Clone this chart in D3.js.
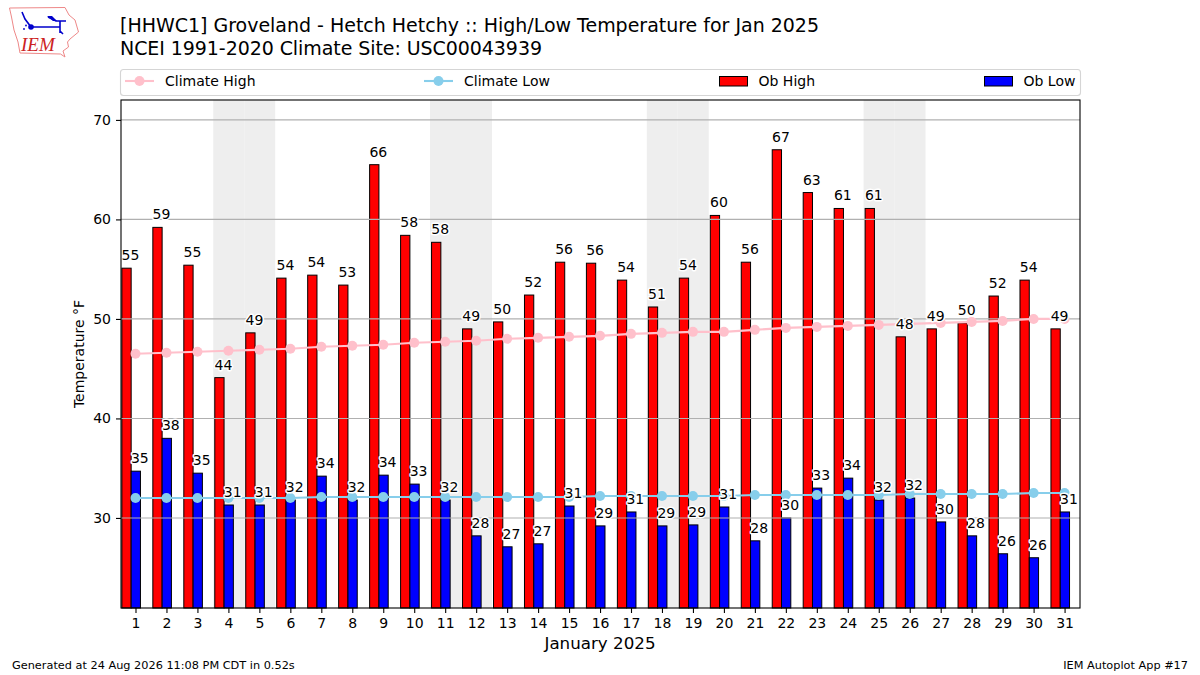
<!DOCTYPE html>
<html>
<head>
<meta charset="utf-8">
<script src="https://cdn.jsdelivr.net/npm/d3@7"></script>
<style>
  body { margin: 0; background: #fff; }
  text { font-family: "DejaVu Sans", sans-serif; fill: #000; }
  .tick text { font-size: 14px; }
  .halo { paint-order: stroke; stroke: #fff; stroke-width: 3px; stroke-linejoin: round; font-size: 14px; }
</style>
</head>
<body>
<svg id="chart" width="1200" height="675"></svg>
<script>
const days = d3.range(1, 32);
const weekendDays = [4, 5, 11, 12, 18, 19, 25, 26];
const yTicks = [30, 40, 50, 60, 70];

const obHigh = [55.1, 59.2, 55.4, 44.1, 48.6, 54.1, 54.4, 53.4, 65.5, 58.4, 57.7, 49.0, 49.7, 52.4, 55.7, 55.6,
  53.9, 51.2, 54.1, 60.4, 55.7, 67.0, 62.7, 61.1, 61.1, 48.2, 49.0, 49.6, 52.3, 53.9, 49.0];
const obLow = [34.7, 38.0, 34.5, 31.3, 31.3, 31.8, 34.2, 31.8, 34.3, 33.4, 31.8, 28.2, 27.1, 27.4, 31.2, 29.2,
  30.6, 29.2, 29.3, 31.1, 27.7, 30.0, 33.0, 34.0, 31.8, 32.0, 29.6, 28.2, 26.4, 26.0, 30.6];
const climateHigh = [46.5, 46.6, 46.7, 46.8, 46.9, 47.0, 47.2, 47.3, 47.4, 47.6, 47.7, 47.8, 48.0, 48.1, 48.2, 48.3,
  48.5, 48.6, 48.7, 48.7, 48.9, 49.1, 49.2, 49.3, 49.4, 49.5, 49.6, 49.7, 49.8, 50.0, 50.0];
const climateLow = [32.0, 32.0, 32.0, 32.0, 32.0, 32.0, 32.1, 32.1, 32.1, 32.1, 32.1, 32.1, 32.1, 32.1, 32.1, 32.2,
  32.2, 32.2, 32.2, 32.2, 32.3, 32.3, 32.3, 32.3, 32.3, 32.4, 32.4, 32.4, 32.4, 32.5, 32.5];

const titleLines = ['[HHWC1] Groveland - Hetch Hetchy :: High/Low Temperature for Jan 2025',
  'NCEI 1991-2020 Climate Site: USC00043939'];

const plot = { left: 121, right: 1080, top: 100, bottom: 608 };
const barW = 0.3;

const svg = d3.select('#chart');
const x = d3.scaleLinear().domain([0.532, 31.498]).range([plot.left, plot.right]);
const y = d3.scaleLinear().domain([20.95, 72.0]).range([plot.bottom, plot.top]);

// weekend shading goes under everything
svg.append('g').selectAll('rect').data(weekendDays).join('rect')
  .attr('x', d => x(d - 0.49)).attr('width', x(1) - x(0))
  .attr('y', plot.top).attr('height', plot.bottom - plot.top)
  .attr('fill', '#eeeeee');

function drawBars(values, start, color) {
  svg.append('g').selectAll('rect').data(values).join('rect')
    .attr('x', (d, i) => x(days[i] + start))
    .attr('width', x(barW) - x(0))
    .attr('y', d => y(d))
    .attr('height', d => plot.bottom - y(d))
    .attr('fill', color).attr('stroke', '#000').attr('stroke-width', 1);
}
drawBars(obHigh, -0.44, '#ff0000');
drawBars(obLow, -0.14, '#0000ff');

// gridlines sit over the bars, same as the matplotlib default
svg.append('g').selectAll('line').data(yTicks).join('line')
  .attr('x1', plot.left).attr('x2', plot.right)
  .attr('y1', d => y(d)).attr('y2', d => y(d))
  .attr('stroke', '#b0b0b0').attr('stroke-width', 1.1);

function drawClimate(values, color) {
  const line = d3.line().x((d, i) => x(days[i])).y(d => y(d));
  svg.append('path').attr('d', line(values))
    .attr('fill', 'none').attr('stroke', color).attr('stroke-width', 2.1);
  svg.append('g').selectAll('circle').data(values).join('circle')
    .attr('cx', (d, i) => x(days[i])).attr('cy', d => y(d)).attr('r', 5)
    .attr('fill', color);
}
drawClimate(climateHigh, '#ffc0cb');
drawClimate(climateLow, '#87ceeb');

function drawLabels(values, start) {
  svg.append('g').selectAll('text').data(values).join('text')
    .attr('class', 'halo')
    .attr('x', (d, i) => x(days[i] + start))
    .attr('y', d => y(d) - 8)
    .attr('text-anchor', 'middle')
    .text(d => Math.round(d));
}
drawLabels(obHigh, -0.16);
drawLabels(obLow, 0.14);

// axes
const xAxis = svg.append('g').attr('transform', `translate(0,${plot.bottom})`)
  .call(d3.axisBottom(x).tickValues(days).tickFormat(d3.format('d')).tickSize(5).tickPadding(5));
const yAxis = svg.append('g').attr('transform', `translate(${plot.left},0)`)
  .call(d3.axisLeft(y).tickValues(yTicks).tickFormat(d3.format('d')).tickSize(5).tickPadding(5));
xAxis.select('.domain').remove();
yAxis.select('.domain').remove();
svg.selectAll('.tick line').attr('stroke', '#000').attr('stroke-width', 1.1);

svg.append('rect')
  .attr('x', plot.left).attr('y', plot.top)
  .attr('width', plot.right - plot.left).attr('height', plot.bottom - plot.top)
  .attr('fill', 'none').attr('stroke', '#000').attr('stroke-width', 1.1);

svg.append('text').attr('x', 600).attr('y', 649).attr('text-anchor', 'middle')
  .style('font-size', '16.7px').text('January 2025');
svg.append('text').attr('transform', 'translate(84,354) rotate(-90)').attr('text-anchor', 'middle')
  .style('font-size', '14px').text('Temperature °F');

// titles
svg.append('g').selectAll('text').data(titleLines).join('text')
  .attr('x', 120).attr('y', (d, i) => 31.5 + i * 23)
  .attr('textLength', (d, i) => i ? 422 : 699)
  .style('font-size', '19px').text(d => d);

// legend
svg.append('rect').attr('x', 120.5).attr('y', 69.5).attr('width', 960).attr('height', 26).attr('rx', 3)
  .attr('fill', '#fff').attr('stroke', '#d5d5d5').attr('stroke-width', 1.1);

function legendLine(x0, color, label) {
  const g = svg.append('g');
  g.append('line').attr('x1', x0).attr('x2', x0 + 29).attr('y1', 81).attr('y2', 81)
    .attr('stroke', color).attr('stroke-width', 2.1);
  g.append('circle').attr('cx', x0 + 14.5).attr('cy', 81).attr('r', 5).attr('fill', color);
  g.append('text').attr('x', x0 + 40).attr('y', 86).style('font-size', '14px').text(label);
}
function legendBar(x0, color, label) {
  const g = svg.append('g');
  g.append('rect').attr('x', x0).attr('y', 76.5).attr('width', 28).attr('height', 9.5)
    .attr('fill', color).attr('stroke', '#000').attr('stroke-width', 1);
  g.append('text').attr('x', x0 + 39).attr('y', 86).style('font-size', '14px').text(label);
}
legendLine(125, '#ffc0cb', 'Climate High');
legendLine(424, '#87ceeb', 'Climate Low');
legendBar(719.5, '#ff0000', 'Ob High');
legendBar(984.5, '#0000ff', 'Ob Low');

// footer
svg.append('text').attr('x', 12).attr('y', 669).style('font-size', '11.3px')
  .text('Generated at 24 Aug 2026 11:08 PM CDT in 0.52s');
svg.append('text').attr('x', 1188).attr('y', 669).attr('text-anchor', 'end').style('font-size', '11.3px')
  .text('IEM Autoplot App #17');

// IEM logo, rough redraw
const logo = svg.append('g');
logo.append('path')
  .attr('d', 'M9.5,8 L65,7.5 L69,15 L75,20 L78.5,32 L70,39 L67.5,42 L68.5,47 L63,51 L65,57 L60.5,54 L20,53 L18,42 L14,30 L11.5,17 Z')
  .attr('fill', '#fff').attr('stroke', '#e88').attr('stroke-width', 1);
logo.append('path')
  .attr('d', 'M31,27 L60,27 M60,21 L60,33 M22,12 L25,19 L31,27 M48,17 L56,21 L66,21 M60,31 L63,34')
  .attr('fill', 'none').attr('stroke', '#0000cc').attr('stroke-width', 1.6);
logo.append('path').attr('d', 'M47,16 L52,16 L57,21 L53,21 Z').attr('fill', '#0000cc');
logo.append('circle').attr('cx', 31).attr('cy', 27).attr('r', 2.8).attr('fill', '#0000cc');
logo.append('circle').attr('cx', 24).attr('cy', 29).attr('r', 0.9).attr('fill', '#0000cc');
logo.append('circle').attr('cx', 26).attr('cy', 25.5).attr('r', 0.9).attr('fill', '#0000cc');
logo.append('text').attr('x', 21).attr('y', 51).style('font-family', '"Liberation Serif", serif')
  .style('font-style', 'italic').style('font-size', '19px').style('fill', '#cc2222').text('IEM');
</script>
</body>
</html>
